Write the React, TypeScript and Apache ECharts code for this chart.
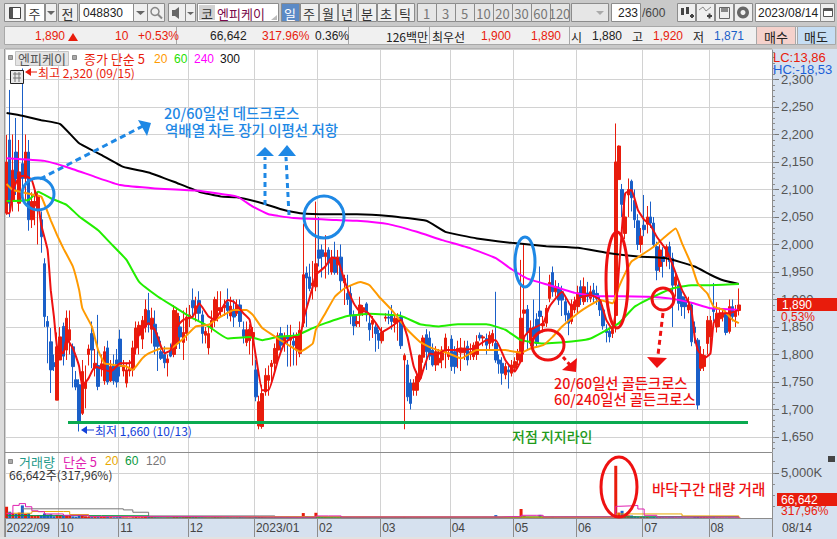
import React, { useEffect, useRef } from 'react';
import * as echarts from 'echarts';

// [open, close, low, high] per trading day
const sep22 = [[2057,2150,2054,2199],[2190,2075,2050,2281],[2081,2135,2060,2200],[2168,2120,2090,2230],[2075,2132,2060,2190],[2147,2120,2090,2320],[2120,2168,2080,2200],[2168,2045,2025,2190],[2045,2078,2030,2095],[2070,2078,2035,2100],[2063,2087,2000,2095],[2045,2014,1985,2060],[1965,1869,1850,1975],[1860,1851,1784,1870],[1823,1772,1730,1848],[1785,1778,1770,1800],[1717,1814,1717,1840]];
const oct22 = [[1790,1832,1790,1850],[1851,1797,1780,1858],[1808,1866,1790,1880],[1826,1845,1800,1880],[1814,1778,1740,1820],[1754,1741,1735,1770],[1745,1678,1660,1755],[1693,1769,1690,1790],[1738,1750,1702,1780],[1800,1810,1780,1818],[1838,1808,1775,1860],[1775,1784,1760,1810],[1780,1742,1735,1872],[1775,1783,1760,1800],[1752,1805,1745,1815],[1812,1750,1745,1825],[1752,1778,1750,1790],[1780,1752,1745,1800],[1790,1750,1740,1810]];
const nov22 = [[1828,1778,1760,1845],[1770,1780,1760,1790],[1748,1772,1740,1785],[1770,1775,1760,1790],[1772,1812,1760,1825],[1812,1848,1800,1860],[1835,1853,1800,1860],[1828,1862,1810,1870],[1850,1882,1840,1900],[1880,1855,1840,1912],[1846,1866,1820,1885],[1855,1815,1800,1880],[1832,1815,1770,1840],[1805,1793,1790,1825],[1800,1785,1775,1815],[1785,1792,1760,1800],[1808,1797,1795,1820],[1800,1880,1795,1890],[1820,1875,1810,1885],[1850,1832,1810,1870],[1822,1840,1790,1880],[1838,1868,1825,1885]];
const dec22 = [[1866,1872,1850,1890],[1898,1885,1870,1920],[1875,1888,1860,1905],[1898,1875,1860,1915],[1872,1838,1820,1880],[1835,1842,1820,1850],[1812,1838,1800,1850],[1848,1862,1840,1880],[1862,1900,1850,1905],[1880,1885,1860,1915],[1878,1885,1870,1915],[1885,1890,1870,1900],[1895,1880,1865,1920],[1870,1888,1860,1905],[1882,1868,1850,1900],[1875,1890,1870,1900],[1890,1860,1850,1900],[1845,1833,1820,1860],[1822,1845,1815,1860],[1825,1846,1800,1855],[1830,1840,1780,1850]];
const jan23 = [[1772,1723,1715,1790],[1670,1714,1664,1725],[1669,1729,1665,1745],[1732,1762,1725,1775],[1753,1762,1725,1780],[1778,1784,1750,1790],[1784,1811,1770,1820],[1808,1834,1790,1840],[1838,1817,1800,1850],[1820,1832,1805,1840],[1834,1828,1778,1854],[1826,1832,1778,1854],[1824,1817,1780,1840],[1808,1832,1780,1840],[1802,1844,1795,1860],[1857,1945,1850,2038],[1948,1939,1850,1960],[1941,1920,1915,1965],[1925,1930,1900,1970],[1923,1965,1915,2078]];
const feb23 = [[1990,1975,1960,2050],[1990,1978,1940,2000],[1978,1985,1938,2017],[1990,1966,1945,1995],[1950,1975,1945,1990],[1977,1949,1945,2005],[1963,1977,1945,1990],[1977,1934,1915,2000],[1930,1938,1890,1945],[1911,1900,1890,1945],[1911,1872,1855,1925],[1872,1852,1835,1880],[1856,1860,1850,1870],[1872,1890,1850,1905],[1880,1885,1870,1890],[1892,1872,1860,1895],[1857,1845,1825,1875],[1855,1862,1830,1870],[1850,1838,1805,1855],[1838,1826,1810,1845]];
const mar23 = [[1825,1841,1820,1850],[1866,1868,1860,1875],[1868,1866,1855,1880],[1870,1860,1845,1890],[1858,1866,1840,1875],[1860,1866,1825,1875],[1868,1816,1810,1878],[1790,1798,1664,1802],[1781,1723,1715,1790],[1748,1711,1700,1755],[1735,1748,1725,1755],[1735,1760,1725,1770],[1757,1798,1750,1800],[1795,1830,1785,1835],[1836,1805,1772,1846],[1830,1797,1790,1842],[1808,1781,1778,1820],[1781,1805,1770,1815],[1785,1793,1780,1810],[1790,1808,1775,1815],[1805,1830,1775,1838],[1796,1803,1790,1815]];
const apr23 = [[1828,1778,1770,1835],[1805,1778,1765,1815],[1805,1811,1775,1825],[1803,1812,1770,1830],[1803,1812,1790,1825],[1815,1790,1780,1825],[1800,1805,1790,1820],[1796,1817,1790,1822],[1800,1823,1790,1835],[1835,1830,1825,1840],[1830,1832,1815,1835],[1829,1817,1800,1838],[1820,1835,1810,1842],[1822,1838,1815,1845],[1820,1790,1785,1914],[1790,1783,1765,1800],[1784,1766,1745,1795],[1763,1778,1755,1785],[1772,1768,1738,1780],[1766,1781,1760,1790]];
const may23 = [[1775,1787,1768,1795],[1790,1805,1780,1810],[1787,1866,1785,1972],[1875,1881,1800,2002],[1882,1840,1810,1890],[1820,1848,1815,1862],[1850,1832,1815,1900],[1864,1820,1815,1875],[1879,1869,1840,1960],[1852,1856,1840,1870],[1857,1884,1850,1890],[1902,1931,1895,1945],[1949,1914,1905,1960],[1914,1923,1905,1935],[1920,1899,1890,1930],[1914,1899,1870,1925],[1896,1872,1860,1905],[1875,1857,1835,1880],[1860,1890,1855,1900],[1881,1896,1875,1905]];
const jun23 = [[1887,1912,1875,1925],[1923,1905,1890,1935],[1896,1923,1890,1940],[1912,1905,1895,1932],[1902,1914,1895,1925],[1917,1905,1895,1930],[1911,1902,1890,1925],[1899,1881,1870,1905],[1881,1852,1845,1890],[1845,1840,1822,1855],[1842,1832,1822,1850],[1838,1845,1830,1860],[1871,2150,1840,2220],[2118,2179,2118,2180],[2100,2073,2050,2110],[2020,2050,2010,2090],[2090,2100,2050,2120],[2115,2085,2060,2118],[2080,2045,2030,2100],[2043,2000,1990,2055],[2000,2015,1985,2030]];
const jul23 = [[2035,2027,2015,2090],[2037,2050,2020,2070],[2050,2039,2030,2078],[2039,2000,1995,2050],[1996,1953,1935,2005],[1960,1990,1950,2000],[1978,1969,1940,1995],[1977,1996,1960,2000],[1996,1969,1955,2005],[1975,1926,1850,1985],[1926,1941,1905,1950],[1926,1893,1880,1935],[1905,1887,1870,1915],[1899,1887,1865,1905],[1881,1890,1875,1905],[1890,1823,1815,1895],[1850,1840,1820,1860],[1826,1708,1700,1830],[1775,1800,1770,1815],[1778,1798,1770,1810],[1820,1862,1800,1870]];
const aug23 = [[1832,1862,1805,1870],[1884,1878,1860,1930],[1850,1875,1840,1895],[1865,1875,1850,1885],[1868,1874,1860,1882],[1872,1840,1835,1880],[1842,1887,1838,1900],[1887,1869,1860,1900],[1869,1878,1850,1890],[1880,1890,1871,1920]];

const monthBars = [sep22, oct22, nov22, dec22, jan23, feb23, mar23, apr23, may23, jun23, jul23, aug23];
const monthLabels = ['2022/09', '10', '11', '12', '2023/01', '02', '03', '04', '05', '06', '07', '08'];
const emptySlots = 10;

const priceTicks = [1650, 1700, 1750, 1800, 1850, 1900, 1950, 2000, 2050, 2100, 2150, 2200, 2250, 2300];
const volumeTicks = [5000];

// volume in thousands of shares
const volumes = [
  1250,700,520,480,600,1400,450,520,300,260,320,280,500,380,420,200,350,
  300,260,220,240,180,150,360,310,190,150,170,160,120,130,110,120,100,90,100,
  120,80,70,60,90,110,90,100,130,140,110,90,70,60,50,60,70,180,150,90,100,120,
  130,140,110,90,80,70,60,70,90,80,70,60,70,60,50,60,80,70,60,70,60,
  110,130,120,90,80,70,70,60,70,60,70,80,60,70,60,550,200,120,130,580,
  220,120,100,90,80,70,70,60,60,70,60,50,50,60,60,50,50,40,50,50,
  60,50,40,50,50,60,90,110,80,70,60,70,80,60,60,50,50,40,50,60,50,50,
  50,50,40,40,40,50,40,40,50,40,40,50,40,50,320,90,70,60,50,50,
  70,90,1000,230,120,90,80,70,350,110,90,80,120,70,60,60,50,50,60,50,
  60,70,60,50,60,50,50,50,60,50,50,60,5800,600,800,350,300,280,200,150,120,
  130,120,100,110,90,80,70,60,70,70,60,60,50,50,50,60,100,120,90,90,80,
  70,80,60,60,50,50,60,50,50,66.642,
];

// moving averages as [bar, value]
const ma5 = [[0,2057],[1,2057],[2,2099],[4,2123],[6,2125],[8,2117],[10,2075],[11,2035],[13,1990],[14,1917],[15,1869],[16,1814],[18,1802],[19,1829],[21,1811],[22,1796],[23,1778],[24,1742],[26,1757],[28,1778],[31,1772],[33,1769],[36,1784],[39,1784],[40,1790],[42,1838],[45,1857],[47,1845],[50,1802],[52,1808],[54,1851],[56,1863],[59,1869],[61,1893],[64,1869],[66,1863],[70,1899],[72,1896],[75,1875],[77,1863],[79,1796],[81,1735],[83,1735],[86,1790],[88,1820],[91,1832],[93,1832],[94,1863],[97,1923],[98,1945],[101,1960],[103,1977],[105,1972],[107,1935],[110,1893],[112,1878],[114,1878],[117,1857],[119,1841],[122,1851],[125,1863],[127,1832],[129,1778],[131,1754],[132,1772],[134,1802],[136,1799],[139,1808],[141,1808],[144,1808],[148,1811],[152,1826],[155,1826],[158,1790],[161,1769],[163,1790],[164,1832],[166,1845],[170,1857],[172,1887],[176,1914],[179,1887],[181,1902],[185,1908],[188,1899],[190,1863],[192,1845],[193,1880],[194,1954],[195,2032],[196,2093],[198,2099],[200,2063],[202,2045],[204,2035],[206,2014],[209,1990],[210,1978],[212,1948],[214,1917],[216,1896],[217,1881],[218,1832],[219,1808],[221,1793],[223,1802],[224,1857],[226,1875],[229,1875],[232,1881]];
const ma20 = [[0,2110],[2,2099],[9,2090],[11,2087],[14,2044],[16,2017],[18,1993],[21,1960],[23,1917],[24,1884],[27,1851],[29,1808],[31,1784],[34,1781],[38,1778],[40,1772],[43,1793],[45,1802],[49,1811],[52,1811],[56,1829],[60,1851],[64,1854],[67,1866],[72,1881],[76,1881],[78,1872],[81,1848],[86,1829],[91,1811],[93,1805],[97,1820],[98,1845],[101,1875],[104,1905],[107,1920],[110,1928],[112,1932],[115,1926],[118,1905],[122,1881],[127,1845],[131,1823],[135,1811],[140,1802],[144,1793],[149,1808],[154,1808],[158,1808],[163,1803],[166,1811],[170,1817],[173,1832],[176,1851],[181,1875],[185,1890],[188,1899],[190,1896],[192,1893],[194,1923],[196,1948],[198,1969],[202,1984],[205,1996],[208,2011],[212,2029],[214,2002],[217,1963],[219,1929],[222,1911],[224,1887],[227,1881],[230,1863],[232,1857]];
const ma60 = [[0,2079],[7,2081],[10,2096],[14,2084],[19,2072],[23,2051],[29,2026],[33,2002],[38,1972],[42,1932],[48,1905],[53,1887],[58,1869],[64,1851],[70,1829],[77,1832],[81,1826],[86,1832],[92,1835],[97,1848],[101,1857],[108,1870],[115,1874],[125,1870],[131,1855],[137,1851],[143,1855],[152,1855],[158,1845],[163,1826],[170,1820],[181,1825],[185,1829],[189,1841],[194,1857],[199,1887],[206,1908],[211,1920],[217,1926],[223,1926],[232,1928]];
const ma240 = [[0,2157],[12,2152],[19,2141],[28,2123],[36,2108],[47,2102],[60,2098],[73,2087],[78,2069],[83,2055],[86,2052],[91,2048],[102,2045],[111,2043],[121,2037],[130,2023],[138,2008],[147,1993],[155,1975],[160,1955],[165,1938],[172,1926],[180,1912],[187,1906],[195,1906],[203,1905],[210,1902],[217,1894],[223,1884],[232,1881]];
const ma300 = [[0,2239],[5,2234],[11,2226],[17,2219],[23,2184],[30,2163],[37,2141],[45,2131],[53,2114],[61,2096],[68,2087],[73,2086],[81,2075],[87,2064],[93,2057],[102,2055],[111,2055],[121,2052],[133,2043],[139,2023],[149,2011],[160,2003],[171,1997],[181,1994],[190,1985],[200,1978],[209,1975],[218,1960],[223,1945],[227,1935],[232,1928]];

const volMa5 = [[0,500],[2,1400],[4,1600],[6,1250],[8,800],[10,700],[12,450],[18,300],[26,150],[60,90],[94,100],[98,230],[102,230],[106,110],[155,100],[156,150],[160,150],[163,300],[168,300],[170,120],[192,100],[193,1300],[194,1350],[198,1400],[200,1000],[202,300],[206,110],[232,70]];
const volMa20 = [[0,530],[7,530],[8,720],[18,720],[20,380],[26,150],[80,80],[192,60],[193,450],[213,450],[214,230],[232,100]];
const volMa60 = [[0,265],[30,250],[45,90],[75,80],[163,90],[164,150],[222,150],[232,130]];
const volMa120 = [[5,1020],[35,1020],[37,900],[40,640],[45,230],[80,230],[85,120],[232,100]];

const UP = '#e81c0c';
const DOWN = '#1a5fc8';
const FONT = '"Liberation Sans", "Noto Sans CJK KR", sans-serif';
const KFONT = '"Noto Sans CJK KR", "Liberation Sans", sans-serif';

const txt = (x: number, y: number, text: string, fill: string, size = 12, align = 'left', font = KFONT, weight = '') => ({
  type: 'text', x, y, z: 60, silent: true,
  style: { text, fill, font: `${weight} ${size}px ${font}`, textAlign: align, textVerticalAlign: 'middle' },
});
const box = (x: number, y: number, w: number, h: number, fill: string, stroke?: string, z = -1) => ({
  type: 'rect', z, silent: true,
  shape: { x, y, width: w, height: h },
  style: { fill, stroke: stroke || 'none', lineWidth: 1 },
});
const seg = (x1: number, y1: number, x2: number, y2: number, stroke: string, lineWidth = 1, lineDash?: number[]) => ({
  type: 'line', z: 50, silent: true,
  shape: { x1, y1, x2, y2 },
  style: { stroke, lineWidth, lineDash },
});
const tri = (points: number[][], fill: string, z = 50) => ({ type: 'polygon', z, silent: true, shape: { points }, style: { fill } });
const oval = (cx: number, cy: number, rx: number, ry: number, stroke: string, lineWidth = 3) => ({
  type: 'ellipse', z: 50, silent: true,
  shape: { cx, cy, rx, ry },
  style: { fill: 'none', stroke, lineWidth },
});

const button = (x: number, w: number, label: string, fill = '#efefef', color = '#333') => [
  box(x + 0.5, 3.5, w, 18, fill, '#8c8c8c'),
  txt(x + w / 2, 13, label, color, 13, 'center'),
];

const toolbar = () => {
  const BLUE = '#1a5fc8';
  const RED = '#e81c0c';
  const out: any[] = [
    box(0, 0, 837, 49, '#c9c9c9'),
    box(0, 49, 5, 490, '#dcdcdc'),
    box(0, 537, 837, 2, '#e2e2e2'),
    box(4.5, 26.5, 830, 18, '#f0f0f0', '#a8a8a8'),
    box(5, 519, 767, 18, '#d6e1ef'),
    box(772, 49, 65, 490, '#d6e1ef'),
    box(5, 49, 767, 470, '#ffffff'),
    seg(176.5, 27, 176.5, 44, '#a8a8a8'),
    seg(348.5, 27, 348.5, 44, '#a8a8a8'),
    seg(429.5, 27, 429.5, 44, '#a8a8a8'),
    seg(569.5, 27, 569.5, 44, '#a8a8a8'),
    seg(5, 49, 772, 49, '#9a9a9a'),
    seg(5, 452.5, 772, 452.5, '#8c8c8c'),
    seg(4.5, 49, 4.5, 537, '#9a9a9a'),
  ];
  // top row
  out.push(
    box(4.5, 3.5, 20, 18, '#efefef', '#8c8c8c'),
    box(9.5, 7.5, 11, 11, '#ffffff', '#444'),
    box(10, 8, 3, 10, '#555'),
    ...button(25, 19, '주', '#ffffff'),
    box(45.5, 3.5, 11, 18, '#efefef', '#8c8c8c'),
    tri([[47, 11], [55, 11], [51, 15]], '#666'),
    ...button(58, 19, '전'),
    box(79.5, 3.5, 54, 18, '#ffffff', '#8c8c8c'),
    txt(83, 13, '048830', '#222', 12, 'left', FONT),
    box(133.5, 3.5, 14, 18, '#efefef', '#8c8c8c'),
    tri([[136, 11], [145, 11], [140.5, 15]], '#666'),
    box(147.5, 3.5, 17, 18, '#efefef', '#8c8c8c'),
    { type: 'circle', z: 50, silent: true, shape: { cx: 155, cy: 11.5, r: 4 }, style: { fill: 'none', stroke: '#888', lineWidth: 1.5 } },
    seg(158, 14.5, 162, 18.5, '#888', 2),
    box(168.5, 3.5, 17, 18, '#efefef', '#8c8c8c'),
    tri([[172, 10], [175, 10], [179, 7], [179, 19], [175, 16], [172, 16]], '#666'),
    box(185.5, 3.5, 10, 18, '#efefef', '#8c8c8c'),
    tri([[187, 12], [194, 12], [190.5, 15]], '#666'),
    box(197.5, 3.5, 81, 18, '#ffffff', '#8c8c8c'),
    box(199, 5, 16, 15, '#d2d2d2'),
    txt(207, 13, '코', '#333', 13, 'center'),
    txt(217, 13, '엔피케이', '#7a0a4a', 13),
    tri([[277, 20], [277, 15], [271, 20]], '#bbb'),
    ...button(281, 18, '일', '#5b8ac6', '#ffffff'),
    ...button(300, 18, '주'),
    ...button(319, 18, '월'),
    ...button(338, 18, '년'),
    ...button(358, 18, '분'),
    ...button(377, 18, '초'),
    ...button(396, 18, '틱'),
  );
  ['1', '3', '5', '10', '20', '30', '60', '120'].forEach((label, i) => {
    out.push(...button(417 + i * 19, 19, label, '#e6e6e6', '#777'));
  });
  out.push(
    box(571.5, 3.5, 37, 18, '#e6e6e6', '#8c8c8c'),
    tri([[596, 11], [604, 11], [600, 15]], '#aaa'),
    box(611.5, 3.5, 29, 18, '#ffffff', '#8c8c8c'),
    txt(638, 13, '233', '#222', 12, 'right', FONT),
    txt(642, 13, '/600', '#444', 12, 'left', FONT),
  );
  [677, 696, 715, 734].forEach(x => out.push(box(x + 0.5, 3.5, 18, 18, '#efefef', '#8c8c8c')));
  out.push(
    box(681, 8, 3, 7, '#444'), box(686, 7, 3, 7, '#444'), seg(690, 16, 694, 16, '#444', 2), seg(692, 14, 692, 18, '#444', 2),
    { type: 'polyline', z: 50, silent: true, shape: { points: [[699, 10], [703, 7], [706, 11], [711, 7]] }, style: { fill: 'none', stroke: '#888', lineWidth: 1 } },
    seg(707, 16, 712, 16, '#444', 2), seg(709.5, 13.5, 709.5, 18.5, '#444', 2),
    box(719.5, 7.5, 10, 11, 'none', '#666'), box(721, 8, 7, 4, '#888'),
    { type: 'ring', z: 50, silent: true, shape: { cx: 743, cy: 12.5, r: 6, r0: 2.5 }, style: { fill: '#666' } },
    box(755.5, 3.5, 65, 18, '#ffffff', '#8c8c8c'),
    txt(758, 13, '2023/08/14', '#222', 12, 'left', FONT),
    box(820.5, 3.5, 14, 18, '#efefef', '#8c8c8c'),
    box(823.5, 8.5, 9, 8, '#ffffff', '#555'),
    seg(823.5, 10, 832.5, 10, '#555', 2),
  );
  // quote row
  out.push(
    txt(35, 36, '1,890', RED, 12, 'left', FONT),
    tri([[68, 41], [78, 41], [73, 33]], RED),
    txt(115, 36, '10', RED, 12, 'left', FONT),
    txt(138, 36, '+0.53%', RED, 12, 'left', FONT),
    txt(210, 36, '66,642', '#222', 12, 'left', FONT),
    txt(262, 36, '317.96%', RED, 12, 'left', FONT),
    txt(315, 36, '0.36%', '#222', 12, 'left', FONT),
    txt(386, 36, '126백만', '#222', 12),
    txt(432, 36, '최우선', '#222', 12),
    txt(481, 36, '1,900', RED, 12, 'left', FONT),
    txt(531, 36, '1,890', RED, 12, 'left', FONT),
    txt(571, 36, '시', '#222', 12),
    txt(592, 36, '1,880', '#222', 12, 'left', FONT),
    txt(632, 36, '고', '#222', 12),
    txt(653, 36, '1,920', RED, 12, 'left', FONT),
    txt(693, 36, '저', '#222', 12),
    txt(714, 36, '1,871', BLUE, 12, 'left', FONT),
    box(756.5, 26.5, 39, 18, '#f5d2cc', '#a8a8a8'),
    txt(776, 36, '매수', '#222', 13, 'center'),
    box(797.5, 26.5, 38, 18, '#c6def4', '#a8a8a8'),
    txt(816, 36, '매도', '#222', 13, 'center'),
  );
  // legends and right-hand labels
  out.push(
    box(8.5, 55.5, 4, 4, '#aaa', '#888', 40),
    box(15.5, 51.5, 53, 14, '#e4e4e4', '#c4c4c4', 40),
    txt(42, 58.5, '엔피케이', '#555', 13, 'center'),
    box(72.5, 55.5, 4, 4, '#aaa', '#888', 40),
    txt(84, 58.5, '종가 단순 5', RED, 13),
    txt(154, 58.5, '20', '#ff9a00', 12, 'left', FONT),
    txt(174, 58.5, '60', '#1fe000', 12, 'left', FONT),
    txt(194, 58.5, '240', '#ff00ff', 12, 'left', FONT),
    txt(220, 58.5, '300', '#111', 12, 'left', FONT),
    box(10.5, 70.5, 13, 13, '#e8e8e8', '#222', 40),
    seg(13, 74, 21, 74, '#777'), seg(13, 78, 21, 78, '#777'), seg(15, 72, 15, 82, '#777'), seg(19, 72, 19, 82, '#777'),
    tri([[25, 72], [31, 68], [31, 76]], RED),
    seg(30, 72, 37, 72, RED),
    txt(38, 72, '최고 2,320 (09/15)', RED, 12),
    tri([[81, 430], [87, 426], [87, 434]], '#1240d8'),
    seg(86, 430, 94, 430, '#1240d8'),
    txt(95, 430, '최저 1,660 (10/13)', '#1240d8', 12),
    txt(773, 57, 'LC:13,86', RED, 13, 'left', FONT),
    txt(773, 69, 'HC:-18,53', '#1a5fd8', 13, 'left', FONT),
    box(777, 298, 60, 13, RED, undefined, 40),
    txt(782, 305, '1,890', '#ffffff', 12, 'left', FONT),
    txt(781, 317, '0,53%', RED, 12, 'left', FONT),
    box(777, 493, 60, 13, RED, undefined, 40),
    txt(781, 499.5, '66,642', '#ffffff', 12, 'left', FONT),
    txt(781, 511, '317,96%', RED, 12, 'left', FONT),
    txt(782, 528, '08/14', '#444', 12, 'left', FONT),
    box(828, 456, 7, 6, '#444', undefined, 40),
    box(8.5, 459.5, 4, 4, '#aaa', '#888', 40),
    txt(19, 461, '거래량', '#1f9a8a', 13),
    txt(63, 461, '단순 5', '#e020b0', 13),
    txt(105, 461, '20', '#e8a800', 12, 'left', FONT),
    txt(125, 461, '60', '#0a9a40', 12, 'left', FONT),
    txt(146, 461, '120', '#777', 12, 'left', FONT),
    txt(9, 474, '66,642주(317,96%)', '#333', 12),
  );
  return out;
};

const annotations = () => {
  const SKY = '#1e88e5';
  const RED = '#ee1111';
  return [
    oval(38, 194, 16, 16, SKY),
    oval(324, 217, 20, 21, SKY),
    oval(525, 262, 10, 25, SKY),
    oval(617, 280, 11, 48, RED),
    oval(548, 345, 16, 15, RED),
    oval(663, 299, 11, 11, RED),
    oval(619, 487, 18, 30, RED),
    seg(40, 179, 143, 126, SKY, 3, [6, 4]),
    tri([[138, 120], [151, 123], [147, 136]], SKY),
    seg(265, 205, 265, 157, SKY, 3, [5, 4]),
    tri([[265, 147], [256, 156], [274, 156]], SKY),
    seg(289, 215, 286, 157, SKY, 3, [5, 4]),
    tri([[287, 145], [278, 156], [296, 156]], SKY),
    seg(563, 357, 570, 365, RED, 3, [4, 3]),
    tri([[562, 370], [577, 358], [576, 372]], RED),
    seg(663, 313, 658, 355, RED, 3, [5, 4]),
    tri([[647, 357], [667, 358], [657, 368]], RED),
    seg(68, 422.5, 748, 422.5, '#0aaa50', 3),
    txt(164, 112, '20/60일선 데드크로스', SKY, 14.5, 'left', KFONT, '500'),
    txt(165, 129, '역배열 차트 장기 이평선 저항', SKY, 14.5, 'left', KFONT, '500'),
    txt(554, 382, '20/60일선 골든크로스', RED, 14.3, 'left', KFONT, '500'),
    txt(554, 398, '60/240일선 골든크로스', RED, 14.3, 'left', KFONT, '500'),
    txt(512, 436, '저점 지지라인', '#1f9a1a', 14, 'left', KFONT, '500'),
    txt(652, 488, '바닥구간 대량 거래', RED, 14.5, 'left', KFONT, '500'),
  ];
};

const App: React.FC = () => {
  const chartRef = useRef<HTMLDivElement>(null);

  useEffect(() => {
    document.body.style.margin = '0';
    if (!chartRef.current) return;
    const chart = echarts.init(chartRef.current, undefined, { renderer: 'svg' });

    const candles = monthBars.flat();
    const categories: string[] = [];
    const labelAt: Record<number, string> = {};
    monthBars.forEach((bars, m) => {
      labelAt[categories.length] = monthLabels[m];
      bars.forEach((_, d) => categories.push(`${m}-${d}`));
    });
    for (let i = 0; i < emptySlots; i++) categories.push(`x-${i}`);
    const isMonthStart = (index: number) => labelAt[index] !== undefined;

    const volumeBars = volumes.map((v, i) => ({
      value: v,
      itemStyle: { color: candles[i][1] >= candles[i][0] ? UP : DOWN },
    }));

    const minorPrice: number[] = [];
    for (let v = 1630; v <= 2350; v += 10) minorPrice.push(v);
    const minorVolume = [1250, 2500, 3750, 5000, 6250];

    const maLine = (name: string, data: number[][], color: string) => ({
      name, type: 'line', xAxisIndex: 0, yAxisIndex: 0, data, symbol: 'none', smooth: 0.12,
      lineStyle: { color, width: 2 }, z: 5,
    });
    const volLine = (name: string, data: number[][], color: string) => ({
      name, type: 'line', xAxisIndex: 1, yAxisIndex: 1, data, symbol: 'none', step: 'end',
      lineStyle: { color, width: 1 }, z: 5,
    });
    const xSplit = { show: true, interval: (i: number) => isMonthStart(i), lineStyle: { color: '#d2d2d2', width: 1 } };

    chart.setOption({
      animation: false,
      backgroundColor: '#ffffff',
      graphic: [...toolbar(), ...annotations()],
      grid: [
        { left: 5, width: 767, top: 50, height: 402 },
        { left: 5, width: 767, top: 453, height: 65 },
      ],
      xAxis: [
        {
          type: 'category', gridIndex: 0, data: categories, boundaryGap: true,
          axisLine: { show: false }, axisTick: { show: false }, axisLabel: { show: false },
          splitLine: xSplit,
        },
        {
          type: 'category', gridIndex: 1, data: categories, boundaryGap: true,
          axisLine: { show: true, lineStyle: { color: '#8c8c8c' } },
          axisTick: { show: true, length: 19, interval: (i: number) => isMonthStart(i), lineStyle: { color: '#8c8c8c' } },
          axisLabel: {
            show: true, interval: (i: number) => isMonthStart(i),
            formatter: (_: string, i: number) => labelAt[i] || '',
            align: 'left', margin: 4, color: '#444', fontSize: 12, fontFamily: FONT, hideOverlap: false,
          },
          splitLine: xSplit,
        },
      ],
      yAxis: [
        {
          type: 'value', gridIndex: 0, position: 'right', min: 1622.7, max: 2353.6, scale: true,
          axisLine: { show: true, lineStyle: { color: '#8c8c8c' } },
          axisTick: { show: true, length: 7, customValues: priceTicks, lineStyle: { color: '#777' } },
          axisLabel: {
            show: true, customValues: priceTicks, margin: 9, color: '#555', fontSize: 13, fontFamily: FONT,
            formatter: (v: number) => v.toLocaleString('en-US'),
          },
          splitLine: { show: true, lineStyle: { color: '#d2d2d2', width: 1 } },
        },
        {
          type: 'value', gridIndex: 1, position: 'right', min: 0, max: 7222,
          axisLine: { show: true, lineStyle: { color: '#8c8c8c' } },
          axisTick: { show: true, length: 7, customValues: volumeTicks, lineStyle: { color: '#777' } },
          axisLabel: {
            show: true, customValues: volumeTicks, margin: 9, color: '#555', fontSize: 13, fontFamily: FONT,
            formatter: (v: number) => `${v.toLocaleString('en-US')}K`,
          },
          splitLine: { show: true, lineStyle: { color: '#d2d2d2', width: 1 } },
        },
        {
          type: 'value', gridIndex: 0, position: 'right', min: 1622.7, max: 2353.6,
          axisLine: { show: false },
          axisTick: { show: true, length: 3, customValues: minorPrice, lineStyle: { color: '#8c8c8c' } },
          axisLabel: { show: false }, splitLine: { show: false },
        },
        {
          type: 'value', gridIndex: 1, position: 'right', min: 0, max: 7222,
          axisLine: { show: false },
          axisTick: { show: true, length: 3, customValues: minorVolume, lineStyle: { color: '#8c8c8c' } },
          axisLabel: { show: false }, splitLine: { show: false },
        },
      ],
      series: [
        {
          name: '엔피케이', type: 'candlestick', xAxisIndex: 0, yAxisIndex: 0, data: candles, barWidth: 3, z: 3,
          itemStyle: { color: UP, color0: DOWN, borderColor: UP, borderColor0: DOWN, borderWidth: 1 },
        },
        maLine('300', ma300, '#000000'),
        maLine('240', ma240, '#ff00ff'),
        maLine('60', ma60, '#22ee00'),
        maLine('20', ma20, '#ff9a00'),
        maLine('5', ma5, '#ee1111'),
        { name: '거래량', type: 'bar', xAxisIndex: 1, yAxisIndex: 1, data: volumeBars, barWidth: 3, z: 3 },
        volLine('vol120', volMa120, '#777777'),
        volLine('vol60', volMa60, '#0a9a40'),
        volLine('vol20', volMa20, '#e8a800'),
        volLine('vol5', volMa5, '#e020b0'),
      ],
    });

    return () => {
      chart.dispose();
    };
  }, []);

  return <div ref={chartRef} style={{ width: '837px', height: '539px' }}></div>;
};

export default App;
